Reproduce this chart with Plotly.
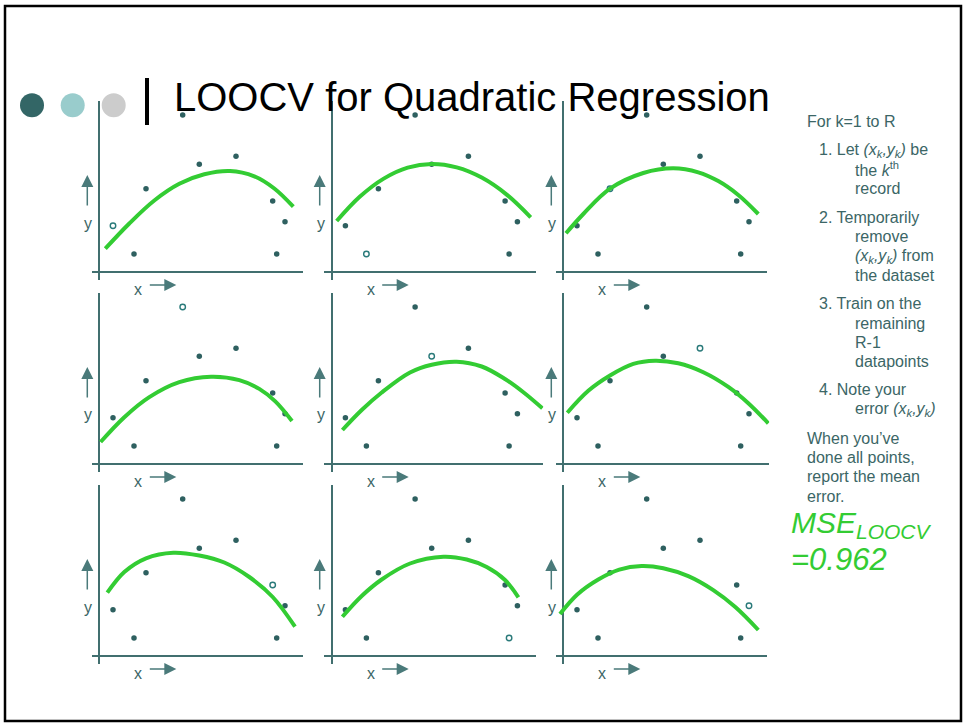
import plotly.graph_objects as go

W, H = 964, 723

# ---------------- data (panel units, one unit ~ one pixel) ----------------
point_x = [13.7, 34.7, 46.7, 83.4, 100.0, 136.7, 173.4, 177.4, 185.7]
point_y = [46.3, 18.0, 83.3, 157.0, 107.7, 115.7, 71.0, 18.0, 50.3]
held_out = [0, 1, 2, 3, 4, 5, 6, 7, 8]   # index of the point left out in each panel

# fitted curve of each panel
curve_x = [
    [6, 30, 55, 80, 105, 130.7, 155, 175, 194],
    [5, 28, 52, 76, 100, 125, 150, 175, 199],
    [2.7, 20, 46.7, 80, 110, 135, 155, 175, 195],
    [1.3, 25, 50, 80, 111.7, 140, 160, 176, 192.7],
    [10.7, 30, 50, 78.3, 100, 125, 150, 173.3, 192, 210.7],
    [4, 25, 46.7, 70, 91.7, 115, 140, 165, 185, 205],
    [8, 25, 46.7, 74, 100, 125, 150, 173.4, 195.7],
    [10.7, 30, 50, 78.3, 111.7, 135, 155, 173.3, 186.7],
    [-3.3, 14, 35, 56, 78.3, 100, 125, 150, 172, 195],
]
curve_y = [
    [23.3, 48.5, 71.5, 88.2, 97.7, 101, 95.7, 83.5, 65.3],
    [51, 75.2, 93.4, 104.4, 108, 104.6, 94.4, 77.4, 54.7],
    [38.7, 58, 83.3, 99, 103.7, 99.7, 90.9, 77, 58],
    [22, 46.8, 66.9, 81.9, 87.3, 83.9, 75.1, 62.6, 43],
    [34, 54, 71.5, 91.5, 99.3, 102.3, 97.5, 85, 71.5, 55.7],
    [51.3, 73.2, 88.5, 100.1, 103.3, 100.7, 91.8, 77.1, 60.8, 40.7],
    [63.3, 84, 97.7, 103.3, 100.5, 93.5, 79, 59, 29.3],
    [39.3, 60, 76.5, 92.5, 99.3, 96.5, 89, 76, 58.7],
    [42, 61.5, 76.5, 86.4, 90, 87.8, 79.8, 65.8, 48.9, 26],
]

title_text = "LOOCV for Quadratic Regression"
side_lines = [
    (805, 121.7, "For k=1 to R"),
    (816.7, 150.7, "1. Let <i>(x<sub>k</sub>,y<sub>k</sub>)</i> be"),
    (852.7, 169.3, "the <i>k</i><sup>th</sup>"),
    (852.7, 188.3, "record"),
    (816.7, 217.3, "2. Temporarily"),
    (852.7, 236.3, "remove"),
    (852.7, 256, "<i>(x<sub>k</sub>,y<sub>k</sub>)</i> from"),
    (852.7, 275, "the dataset"),
    (816.7, 303.3, "3. Train on the"),
    (852.7, 323, "remaining"),
    (852.7, 342, "R-1"),
    (852.7, 361.3, "datapoints"),
    (816.7, 389.3, "4. Note your"),
    (852.7, 409.3, "error <i>(x<sub>k</sub>,y<sub>k</sub>)</i>"),
    (805, 438.3, "When you\u2019ve"),
    (805, 457.3, "done all points,"),
    (805, 476.7, "report the mean"),
    (805, 496, "error."),
]
mse_label = "<i>MSE<sub>LOOCV</sub></i>"
mse_value = "<i>=0.962</i>"

# ---------------- styling ----------------
FONT = "Liberation Sans, Arial, sans-serif"
TEAL = "#2e6060"
AXIS = "#416f6f"
TEXT = "#3b6666"
GREEN = "#33cc33"

col_x = [99.3, 331.7, 563.3]   # pixel x of each panel origin
row_y = [272, 464, 656]        # pixel y of each panel origin
X_LO, X_HI, Y_LO, Y_HI = -7.6, 204, -8, 171


def px(x):
    return x / W


def py(y):
    return 1 - y / H


fig = go.Figure()
layout_axes = {}
annotations = []

for k in range(9):
    r, c = divmod(k, 3)
    ox, oy = col_x[c], row_y[r]
    n = k + 1
    xa = "x" if n == 1 else f"x{n}"
    ya = "y" if n == 1 else f"y{n}"
    xhi = max(X_HI, max(curve_x[k]) + 1)

    keep = [i for i in range(len(point_x)) if i != held_out[k]]
    fig.add_trace(go.Scatter(
        x=[point_x[i] for i in keep], y=[point_y[i] for i in keep], mode="markers",
        marker=dict(color=TEAL, size=5.5),
        xaxis=xa, yaxis=ya, showlegend=False, cliponaxis=False))
    fig.add_trace(go.Scatter(
        x=[point_x[held_out[k]]], y=[point_y[held_out[k]]], mode="markers",
        marker=dict(color="#2a7a7a", size=5.5, symbol="circle-open", line=dict(width=1.4)),
        xaxis=xa, yaxis=ya, showlegend=False, cliponaxis=False))
    fig.add_trace(go.Scatter(
        x=curve_x[k], y=curve_y[k], mode="lines",
        line=dict(color=GREEN, width=4, shape="spline", smoothing=1.0),
        xaxis=xa, yaxis=ya, hoverinfo="skip", showlegend=False))

    axcommon = dict(showgrid=False, showticklabels=False, ticks="", showline=False,
                    zeroline=True, zerolinecolor=AXIS, zerolinewidth=2, fixedrange=True)
    layout_axes["xaxis" if n == 1 else f"xaxis{n}"] = dict(
        range=[X_LO, xhi], domain=[px(ox + X_LO), px(ox + xhi)], anchor=ya, **axcommon)
    layout_axes["yaxis" if n == 1 else f"yaxis{n}"] = dict(
        range=[Y_LO, Y_HI], domain=[py(oy - Y_LO), py(oy - Y_HI)], anchor=xa, **axcommon)

    # axis labels with little arrows
    annotations.append(dict(x=px(ox - 11), y=py(oy - 49), xref="paper", yref="paper",
                            xanchor="center", yanchor="middle",
                            text="y", showarrow=False, font=dict(family=FONT, size=16, color=TEXT)))
    annotations.append(dict(x=px(ox + 39), y=py(oy + 17), xref="paper", yref="paper",
                            xanchor="center", yanchor="middle",
                            text="x", showarrow=False, font=dict(family=FONT, size=16, color=TEXT)))
    annotations.append(dict(x=px(ox - 12), y=py(oy - 97), xref="paper", yref="paper",
                            text="", showarrow=True, ax=0, ay=32, arrowhead=2, arrowsize=1.6,
                            arrowwidth=1.5, arrowcolor="#4a7a7a", standoff=0, startstandoff=0))
    annotations.append(dict(x=px(ox + 77), y=py(oy + 13), xref="paper", yref="paper",
                            text="", showarrow=True, ax=-28, ay=0, arrowhead=2, arrowsize=1.6,
                            arrowwidth=1.5, arrowcolor="#4a7a7a", standoff=0, startstandoff=0))

# title
annotations.append(dict(x=px(172), y=py(97.5), xref="paper", yref="paper", xanchor="left",
                        yanchor="middle", text=title_text, showarrow=False,
                        font=dict(family=FONT, size=40, color="#000000")))
# side text
for (tx, ty, t) in side_lines:
    annotations.append(dict(x=px(tx), y=py(ty), xref="paper", yref="paper", xanchor="left",
                            yanchor="middle", text=t, showarrow=False,
                            font=dict(family=FONT, size=16, color=TEXT)))
annotations.append(dict(x=px(789), y=py(524), xref="paper", yref="paper", xanchor="left",
                        yanchor="middle", text=mse_label, showarrow=False,
                        font=dict(family=FONT, size=30, color=GREEN)))
annotations.append(dict(x=px(789), y=py(559), xref="paper", yref="paper", xanchor="left",
                        yanchor="middle", text=mse_value, showarrow=False,
                        font=dict(family=FONT, size=31, color=GREEN)))

shapes = [
    dict(type="rect", xref="paper", yref="paper", x0=px(5), x1=px(961), y0=py(6), y1=py(721),
         line=dict(color="#000000", width=2.5), layer="below"),
    dict(type="circle", xref="paper", yref="paper", x0=px(20), x1=px(44), y0=py(93.3), y1=py(117.3),
         fillcolor="#336666", line=dict(width=0)),
    dict(type="circle", xref="paper", yref="paper", x0=px(60.7), x1=px(84.7), y0=py(93.3), y1=py(117.3),
         fillcolor="#99cccc", line=dict(width=0)),
    dict(type="circle", xref="paper", yref="paper", x0=px(101.7), x1=px(125.7), y0=py(93.3), y1=py(117.3),
         fillcolor="#cccccc", line=dict(width=0)),
    dict(type="line", xref="paper", yref="paper", x0=px(147), x1=px(147), y0=py(78), y1=py(125),
         line=dict(color="#000000", width=4)),
]

fig.update_layout(
    width=W, height=H, margin=dict(l=0, r=0, t=0, b=0),
    paper_bgcolor="white", plot_bgcolor="white",
    showlegend=False, annotations=annotations, shapes=shapes,
    font=dict(family=FONT),
    **layout_axes,
)

fig.write_html("out.html", include_plotlyjs=True, config={"displayModeBar": False},
               post_script="document.body.style.margin='0';document.body.style.overflow='hidden';")
